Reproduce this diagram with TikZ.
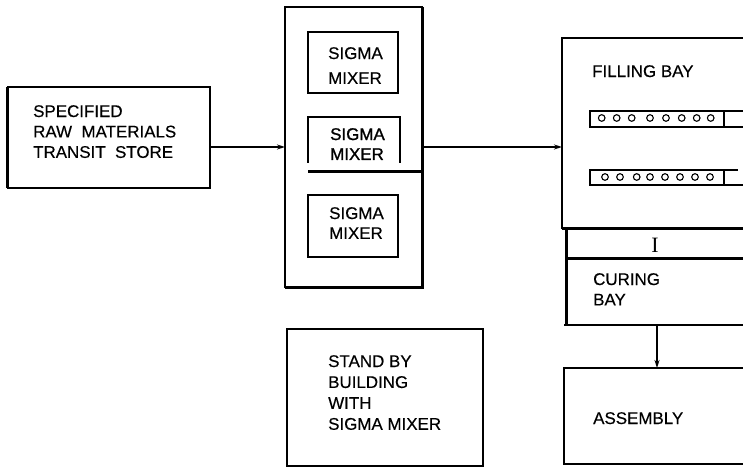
\documentclass[tikz,border=0pt]{standalone}
\usepackage{fontspec}
\setmainfont{Liberation Sans}[FakeBold=0.35]
\newfontfamily\heavyfont{Liberation Sans}[FakeBold=1.2]
\newfontfamily\serifI{Liberation Serif}
\usetikzlibrary{arrows.meta}
\tikzset{
  thinln/.style={line width=1.3bp},
  medln/.style={line width=2bp},
  thickln/.style={line width=3bp},
  arr/.style={line width=1.4bp,-{Stealth[length=8bp,width=5bp]}},
  boxnode/.style={inner sep=0pt, outer sep=0pt},
  lbl/.style={anchor=north west, align=left, inner sep=0pt,
    font=\fontsize{17}{20.5}\selectfont},
  lblwide/.style={lbl, font=\fontsize{17}{25}\selectfont},
  hole/.style={line width=1.1bp, radius=3.3bp}
}
\begin{document}
\begin{tikzpicture}[x=1bp,y=-1bp]
\useasboundingbox (0,0) rectangle (743,467);
% left box
\node[boxnode, draw, thinln, minimum width=202bp, minimum height=101bp] (store) at (109,137.5) {};
\draw[thickln] (store.north west) -- (store.south west);
\node[lbl] (storet) at (33,105) {SPECIFIED\\RAW ~MATERIALS\\TRANSIT~ STORE};
% mixer building
\node[boxnode, draw, thinln, minimum width=137bp, minimum height=280bp] (mixer) at (353.5,147) {};
\draw[medln] (mixer.north west) -- (mixer.north east);
\draw[thickln] (mixer.north east) -- (mixer.south east) -- (mixer.south west);
\node[boxnode, draw, thinln, minimum width=90bp, minimum height=61bp] (mix1) at (353,62.5) {};
\node[lblwide] (mix1t) at (328,47) {SIGMA\\MIXER};
\coordinate (m2a) at (308,163);
\coordinate (m2b) at (400,163);
\draw[thinln] (m2a) -- (308,117) -- (400,117) -- (m2b);
\node[lbl, font=\heavyfont\fontsize{17}{20}\selectfont] (mix2t) at (330,128) {SIGMA\\MIXER};
\draw[thickln] (308,172) -- (mixer.east |- 308,172);
\node[boxnode, draw, thinln, minimum width=90bp, minimum height=62bp] (mix3) at (353,226) {};
\node[lbl, font=\fontsize{17}{20}\selectfont] (mix3t) at (329,207) {SIGMA\\MIXER};
% filling bay
\node[boxnode, minimum width=181bp, minimum height=191bp] (fill) at (652.5,133.5) {};
\draw[thinln] (562,229) -- (562,38) -- (743,38);
\node[lbl] (fillt) at (592,65) {FILLING BAY};
% rack 1
\draw[thinln] (590,111) rectangle (724,127);
\draw[line width=2.6bp] (590,111) -- (743,111) (590,127) -- (743,127);
\foreach \x in {601.7,616.7,631.7,650,666,681.7,696.7,710.7}
  \draw[hole] (\x,118) circle;
% rack 2
\draw[thinln] (590,170) rectangle (724,185);
\draw[medln] (590,170) -- (738,170);
\draw[line width=2.6bp] (590,185) -- (743,185);
\foreach \x in {605,620,636.7,650,665,680,695,710}
  \draw[hole] (\x,177) circle;
% separator strip and curing bay
\draw[thickln] (562,229) -- (743,229);
\draw[thickln] (566,259) -- (743,259);
\node[boxnode, minimum width=177bp, minimum height=66bp] (curing) at (654.5,292) {};
\draw[thickln] (566,229) -- (566,325);
\draw[medln] (564,325) -- (743,325);
\node[inner sep=0pt, font=\serifI\fontsize{22}{22}\selectfont] (strip) at (655,245) {I};
\node[lbl] (curingt) at (593,273) {CURING\\BAY};
% assembly
\node[boxnode, minimum width=179bp, minimum height=96bp] (assy) at (653.5,416) {};
\draw[medln] (743,368) -- (564,368) -- (564,464) -- (743,464);
\node[lbl] (assyt) at (593,412) {ASSEMBLY};
% stand by building
\node[boxnode, draw, thinln, minimum width=196bp, minimum height=137bp] (standby) at (385,397.5) {};
\node[lbl, font=\fontsize{17}{21}\selectfont] (standbyt) at (328,355) {STAND BY\\BUILDING\\WITH\\SIGMA MIXER};
% connectors
\coordinate (dn) at (657,0);
\draw[arr] (store.east |- mixer.west) -- (mixer.west);
\draw[arr] (mixer.east) -- (mixer.east -| fill.west);
\draw[arr] (curing.south -| dn) -- (assy.north -| dn);
\end{tikzpicture}
\end{document}
